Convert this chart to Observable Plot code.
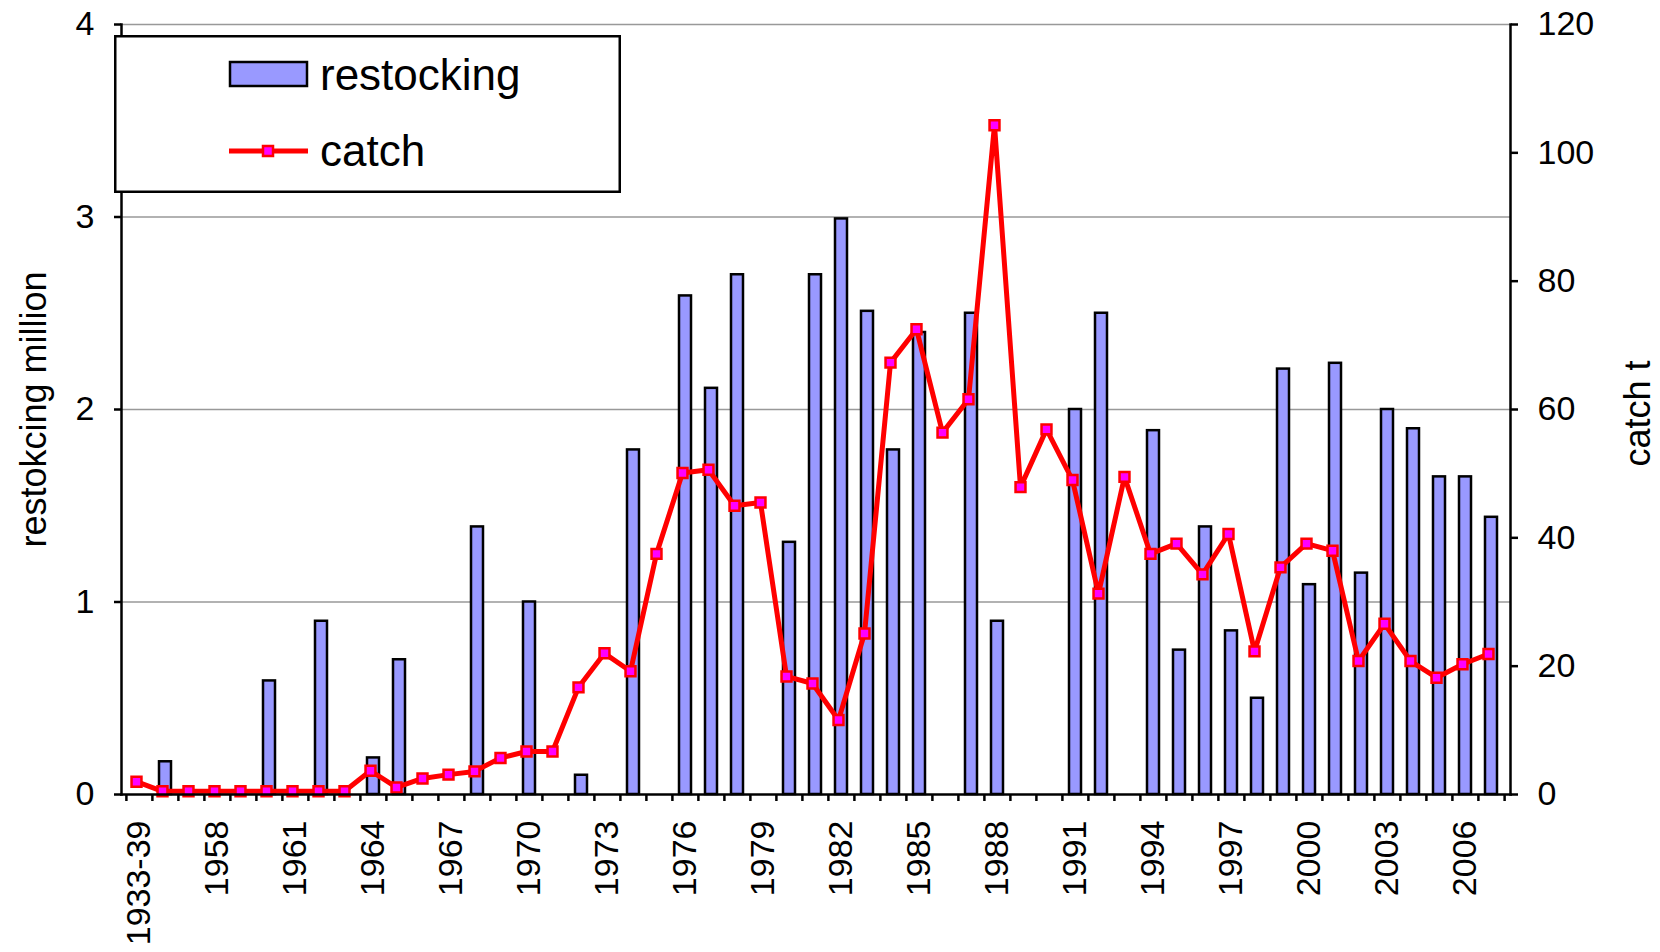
<!DOCTYPE html>
<html>
<head>
<meta charset="utf-8">
<script src="https://cdn.jsdelivr.net/npm/d3@7"></script>
<script src="https://cdn.jsdelivr.net/npm/@observablehq/plot@0.6"></script>
<style>
  body { margin: 0; background: #fff; }
  #wrap { position: relative; width: 1660px; height: 952px; font-family: "Liberation Sans", Arial, sans-serif; }
</style>
</head>
<body>
<div id="wrap"></div>
<script>
const categories = ["1933-39",
  "1956","1957","1958","1959","1960","1961","1962","1963","1964","1965",
  "1966","1967","1968","1969","1970","1971","1972","1973","1974","1975",
  "1976","1977","1978","1979","1980","1981","1982","1983","1984","1985",
  "1986","1987","1988","1989","1990","1991","1992","1993","1994","1995",
  "1996","1997","1998","1999","2000","2001","2002","2003","2004","2005",
  "2006","2007"];

// restocking, million (left axis); 0 = no bar
const restocking = [0,
  0.17, 0, 0, 0, 0.59, 0, 0.90, 0, 0.19, 0.70,
  0, 0, 1.39, 0, 1.00, 0, 0.10, 0, 1.79, 0,
  2.59, 2.11, 2.70, 0, 1.31, 2.70, 2.99, 2.51, 1.79, 2.40,
  0, 2.50, 0.90, 0, 0, 2.00, 2.50, 0, 1.89, 0.75,
  1.39, 0.85, 0.50, 2.21, 1.09, 2.24, 1.15, 2.00, 1.90, 1.65,
  1.65, 1.44];

// catch, t (right axis)
const catchT = [2.0,
  0.5, 0.5, 0.5, 0.5, 0.5, 0.5, 0.5, 0.5, 3.7, 1.1,
  2.5, 3.1, 3.6, 5.7, 6.7, 6.7, 16.7, 22.0, 19.2, 37.5,
  50.1, 50.6, 45.0, 45.5, 18.4, 17.3, 11.6, 25.1, 67.3, 72.5,
  56.4, 61.6, 104.3, 47.9, 56.9, 49.0, 31.3, 49.5, 37.5, 39.1,
  34.3, 40.6, 22.3, 35.4, 39.1, 38.0, 20.8, 26.6, 20.8, 18.2,
  20.3, 21.9];

const leftTicks = [0, 1, 2, 3, 4];
const rightTicks = [0, 20, 40, 60, 80, 100, 120];
const gridValues = [1, 2, 3, 4];
const xLabels = categories.filter((d, i) => i % 3 === 0);
const seriesNames = ["restocking", "catch"];
const leftTitle = "restokcing million";
const rightTitle = "catch t";

const barFill = "#9999ff";
const lineColor = "#ff0000";
const markerFill = "#ff00ff";

const rows = categories.map((c, i) => ({cat: c, restock: restocking[i], catchT: catchT[i]}));
const ratio = rightTicks[rightTicks.length - 1] / leftTicks[leftTicks.length - 1];

const W = 1660, H = 952, mL = 121, mR = 150, mT = 24, mB = 158;
const step = (W - mL - mR) / categories.length;
const font = "Liberation Sans, Arial, sans-serif";

const chart = Plot.plot({
  width: W, height: H,
  marginLeft: mL, marginRight: mR, marginTop: mT, marginBottom: mB,
  style: {fontFamily: font, fontSize: "34px", background: "white", color: "black"},
  x: {domain: categories, paddingInner: 0.52, paddingOuter: 0.26, axis: null},
  y: {domain: [leftTicks[0], leftTicks[leftTicks.length - 1]], axis: null},
  marks: [
    Plot.ruleY(gridValues, {stroke: "#999999", strokeWidth: 1.5}),
    Plot.barY(rows.filter(d => d.restock > 0), {x: "cat", y: "restock", fill: barFill, stroke: "#000", strokeWidth: 2.5}),
    Plot.line(rows, {x: "cat", y: d => d.catchT / ratio, dx: -3, stroke: lineColor, strokeWidth: 5}),
    Plot.dot(rows, {x: "cat", y: d => d.catchT / ratio, dx: -3, symbol: "square", r: 5.6, fill: markerFill, stroke: lineColor, strokeWidth: 2.5}),
    Plot.frame({anchor: "left", stroke: "#000", strokeWidth: 2.5}),
    Plot.frame({anchor: "right", stroke: "#000", strokeWidth: 2.5}),
    Plot.frame({anchor: "bottom", stroke: "#000", strokeWidth: 2.5}),
    Plot.axisY({anchor: "left", ticks: leftTicks, tickFormat: d => String(d), tickSize: 7, tickPadding: 20, strokeWidth: 2.5, label: null, fontSize: 34}),
    Plot.axisY({anchor: "right", ticks: rightTicks.map(v => v / ratio), tickFormat: d => String(Math.round(d * ratio)), tickSize: 7, tickPadding: 20, strokeWidth: 2.5, label: null, fontSize: 34}),
    Plot.axisX({ticks: categories, tickSize: 7, text: null, dx: -step / 2, strokeWidth: 2.5, label: null}),
    Plot.axisX({ticks: [categories[categories.length - 1]], tickSize: 7, text: null, dx: step / 2, strokeWidth: 2.5, label: null}),
    Plot.axisX({ticks: xLabels, tickSize: 0, tickPadding: 26, tickRotate: -90, label: null, fontSize: 34}),
    Plot.text([leftTitle], {frameAnchor: "left", dx: -87, rotate: -90, textAnchor: "middle", lineAnchor: "middle", fontSize: 36, text: d => d}),
    Plot.text([rightTitle], {frameAnchor: "right", dx: 128, dy: 4, rotate: -90, textAnchor: "middle", lineAnchor: "middle", fontSize: 36, text: d => d})
  ]
});

const wrap = document.getElementById("wrap");
wrap.appendChild(chart);

// legend (inside plot area, top-left)
const lw = 507, lh = 158;
const svgNS = "http://www.w3.org/2000/svg";
const leg = document.createElementNS(svgNS, "svg");
leg.setAttribute("id", "legend");
leg.setAttribute("width", lw);
leg.setAttribute("height", lh);
leg.setAttribute("style", "position:absolute;left:114px;top:35px;");
leg.innerHTML = `
  <rect x="1.25" y="1.25" width="${lw - 2.5}" height="${lh - 2.5}" fill="#fff" stroke="#000" stroke-width="2.5"/>
  <rect x="116" y="27" width="77" height="24" fill="${barFill}" stroke="#000" stroke-width="2.5"/>
  <text x="206" y="55" font-family="${font}" font-size="44" fill="#000">${seriesNames[0]}</text>
  <line x1="115" x2="194" y1="116" y2="116" stroke="${lineColor}" stroke-width="5"/>
  <rect x="149" y="111" width="10" height="10" fill="${markerFill}" stroke="${lineColor}" stroke-width="2.5"/>
  <text x="206" y="131" font-family="${font}" font-size="44" fill="#000">${seriesNames[1]}</text>
`;
wrap.appendChild(leg);
</script>
</body>
</html>
